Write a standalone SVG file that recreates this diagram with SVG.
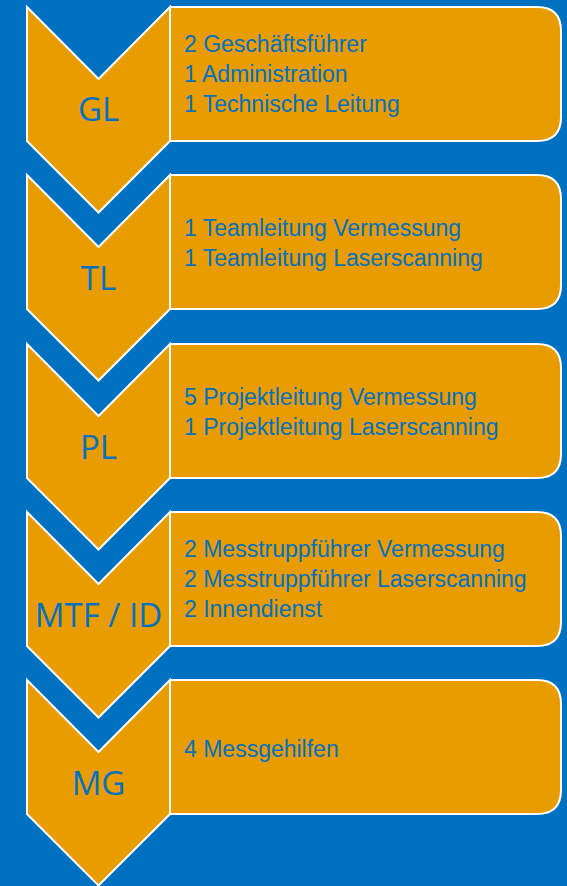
<svg xmlns="http://www.w3.org/2000/svg" width="567" height="886" viewBox="0 0 567 886">
<style>
.bg{fill:#0070C0}
.shape{fill:#E99C00;stroke:#FFFFFF;stroke-width:2;stroke-linejoin:miter}
.lbl{font-family:"Open Sans","Liberation Sans",sans-serif;font-size:33px;fill:#0070C0;text-anchor:middle}
.txt{font-family:"Liberation Sans","Noto Sans",sans-serif;font-size:23px;fill:#0070C0}
</style>
<defs>
<path id="chev" d="M27,0 L98.5,72 L170,0 L170,134 L98.5,205.5 L27,134 Z"/>
<path id="box" d="M170,0 L537,0 Q561,0 561,24 L561,110 Q561,134 537,134 L170,134 Z"/>
</defs>
<rect class="bg" x="0" y="0" width="567" height="886"/>
<g id="connectors"/>
<g id="node-gl" transform="translate(0,7)">
<use href="#box" class="shape"/>
<use href="#chev" class="shape"/>
<text class="lbl" x="98.5" y="114">GL</text>
<text class="txt" x="184" y="45">2 Geschäftsführer</text>
<text class="txt" x="184" y="75">1 Administration</text>
<text class="txt" x="184" y="105">1 Technische Leitung</text>
</g>
<g id="node-tl" transform="translate(0,175)">
<use href="#box" class="shape"/>
<use href="#chev" class="shape"/>
<text class="lbl" x="98.5" y="115">TL</text>
<text class="txt" x="184" y="61">1 Teamleitung Vermessung</text>
<text class="txt" x="184" y="91">1 Teamleitung Laserscanning</text>
</g>
<g id="node-pl" transform="translate(0,344)">
<use href="#box" class="shape"/>
<use href="#chev" class="shape"/>
<text class="lbl" x="98.5" y="115">PL</text>
<text class="txt" x="184" y="61">5 Projektleitung Vermessung</text>
<text class="txt" x="184" y="91">1 Projektleitung Laserscanning</text>
</g>
<g id="node-mtf" transform="translate(0,512)">
<use href="#box" class="shape"/>
<use href="#chev" class="shape"/>
<text class="lbl" x="98.5" y="115">MTF / ID</text>
<text class="txt" x="184" y="45">2 Messtruppführer Vermessung</text>
<text class="txt" x="184" y="75">2 Messtruppführer Laserscanning</text>
<text class="txt" x="184" y="105">2 Innendienst</text>
</g>
<g id="node-mg" transform="translate(0,680)">
<use href="#box" class="shape"/>
<use href="#chev" class="shape"/>
<text class="lbl" x="98.5" y="115">MG</text>
<text class="txt" x="184" y="77">4 Messgehilfen</text>
</g>
</svg>
